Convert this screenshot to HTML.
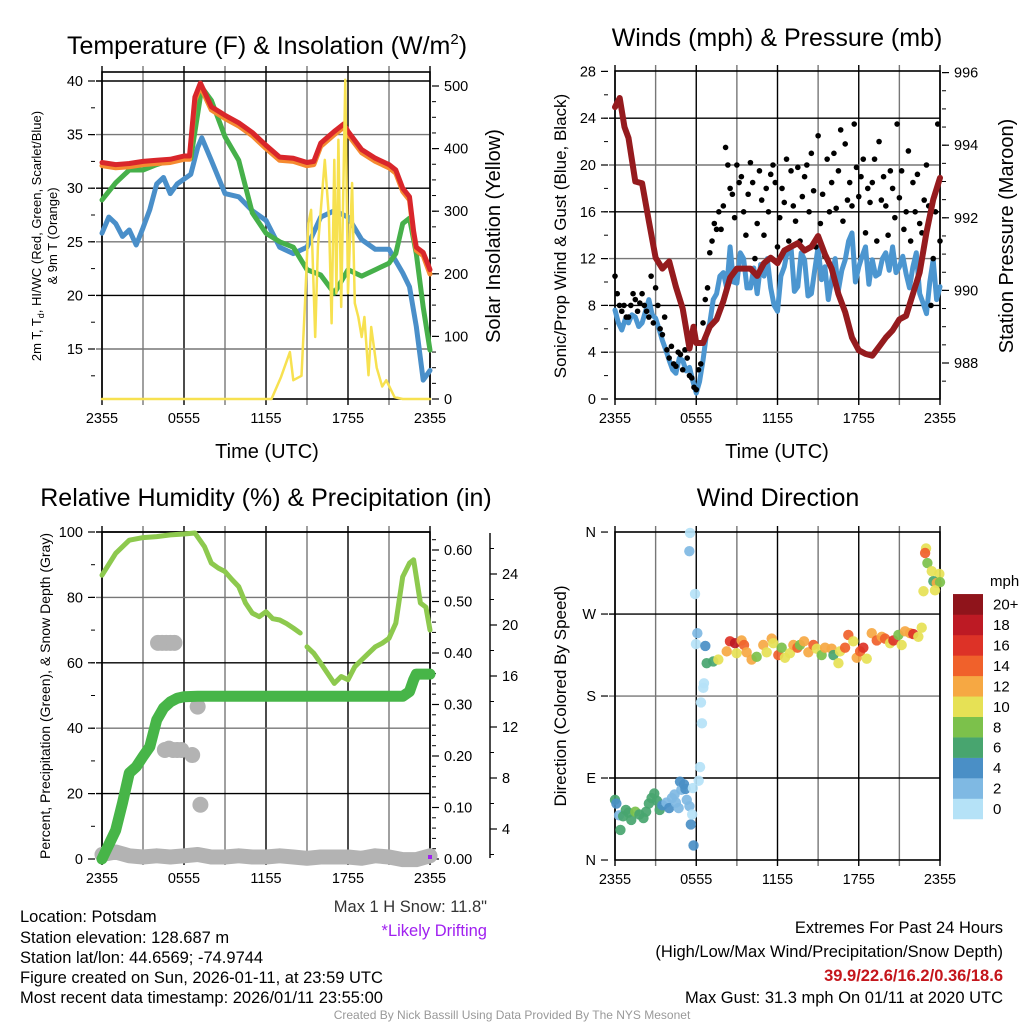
<!DOCTYPE html>
<html><head><meta charset="utf-8"><style>
html,body{margin:0;padding:0;background:#fff;}
svg{display:block;font-family:"Liberation Sans",Arial,sans-serif;}
</style></head><body>
<svg id="fig" width="1024" height="1024" viewBox="0 0 1024 1024" xmlns="http://www.w3.org/2000/svg">
<rect x="0" y="0" width="1024" height="1024" fill="#fff"/>
<g id="layer"></g>
<g font-size="25" text-anchor="middle" fill="#000">
<text x="267" y="54">Temperature (F) &amp; Insolation (W/m<tspan font-size="15" dy="-10">2</tspan><tspan dy="10">)</tspan></text>
<text x="777" y="46">Winds (mph) &amp; Pressure (mb)</text>
<text x="266" y="506">Relative Humidity (%) &amp; Precipitation (in)</text>
<text x="778" y="506">Wind Direction</text>
</g>
<g text-anchor="middle" fill="#000">
<text x="267" y="458" font-size="20">Time (UTC)</text>
<text x="777" y="458" font-size="20">Time (UTC)</text>
<text transform="translate(41,236) rotate(-90)" font-size="13">2m T, T<tspan font-size="9" dy="3">d</tspan><tspan dy="-3">, HI/WC (Red, Green, Scarlet/Blue)</tspan></text>
<text transform="translate(57,236) rotate(-90)" font-size="13">&amp; 9m T (Orange)</text>
<text transform="translate(500,236) rotate(-90)" font-size="20">Solar Insolation (Yellow)</text>
<text transform="translate(566,236) rotate(-90)" font-size="17">Sonic/Prop Wind &amp; Gust (Blue, Black)</text>
<text transform="translate(1013,236) rotate(-90)" font-size="20">Station Pressure (Maroon)</text>
<text transform="translate(50,696) rotate(-90)" font-size="14">Percent, Precipitation (Green), &amp; Snow Depth (Gray)</text>
<text transform="translate(566,696) rotate(-90)" font-size="17">Direction (Colored By Speed)</text>
</g>
<g font-size="16.5" fill="#000">
<text x="20" y="922">Location: Potsdam</text>
<text x="20" y="943">Station elevation: 128.687 m</text>
<text x="20" y="963">Station lat/lon: 44.6569; -74.9744</text>
<text x="20" y="983">Figure created on Sun, 2026-01-11, at 23:59 UTC</text>
<text x="20" y="1003">Most recent data timestamp: 2026/01/11 23:55:00</text>
<text x="487" y="912" text-anchor="end" fill="#333">Max 1 H Snow: 11.8"</text>
<text x="487" y="936" text-anchor="end" fill="#a020f0">*Likely Drifting</text>
<text x="1003" y="933" text-anchor="end">Extremes For Past 24 Hours</text>
<text x="1003" y="957" text-anchor="end">(High/Low/Max Wind/Precipitation/Snow Depth)</text>
<text x="1003" y="981" text-anchor="end" fill="#c4161c" font-weight="bold">39.9/22.6/16.2/0.36/18.6</text>
<text x="1003" y="1003" text-anchor="end">Max Gust: 31.3 mph On 01/11 at 2020 UTC</text>
<text x="512" y="1019" text-anchor="middle" font-size="12" fill="#999">Created By Nick Bassill Using Data Provided By The NYS Mesonet</text>
</g>
</svg>
<script>
// ---------- DATA ----------
const timeLabels = ["2355","0555","1155","1755","2355"];
// Temperature (F)
const tempTimes = [0,1,2,3,4,5,6,6.4,6.8,7.2,8,9,10,11,12,13,14,15,15.5,16,17,17.7,18,19,20,21,21.5,22,22.5,22.8,23,23.5,24];
const tempValues = [32.4,32.2,32.3,32.5,32.6,32.7,33.0,33.0,38.5,39.8,37.6,36.8,36.1,35.2,34.0,32.9,32.8,32.4,32.5,34.2,35.3,36.0,35.3,33.6,32.8,32.2,31.7,30.0,29.2,26.0,24.5,24.0,22.4];
const temp9mValues = [32.1,31.9,32.0,32.2,32.3,32.4,32.7,32.7,38.2,39.5,37.3,36.5,35.8,34.9,33.7,32.6,32.5,32.1,32.2,33.9,35.0,35.7,35.0,33.3,32.5,31.9,31.4,29.7,28.9,25.7,24.2,23.7,22.0];
const hiTimes = [0,1,2,3,4,5,6,6.5,7.3,8,9,10,11,12,13,14,15,16,17,18,19,20,21,21.5,22,22.5,23,23.5,24];
const hiValues = [28.9,30.5,31.7,31.7,32.2,32.6,32.8,32.8,39.4,38.2,34.8,32.6,27.7,25.8,25.0,24.5,22.4,21.9,20.2,22.4,21.8,22.4,23.0,23.9,26.7,27.2,23.9,18.9,14.9];
const tdTimes = [0,0.5,1,1.5,2,2.5,3,3.5,4,4.5,5,5.5,6.5,7,7.3,8,9,10,11,12,13,14,15,16,17,18,19,20,21,22,22.5,23,23.5,24];
const tdValues = [25.8,27.3,26.7,25.5,26.1,24.7,26.3,28.0,30.4,31.0,29.5,30.4,31.3,33.8,34.7,32.6,29.5,29.2,27.9,27.0,24.5,23.9,24.5,27.3,27.9,27.3,25.2,24.3,24.3,22.1,20.8,17.1,12.1,13.0];
const solarTimes = [0,12.4,13.1,13.75,14,14.6,14.85,15.1,15.3,15.6,15.8,16.3,16.6,16.8,17,17.15,17.3,17.5,17.8,18,18.3,18.5,18.75,19,19.2,19.5,19.7,20.1,20.5,20.8,21.4,22,24];
const solarValues = [0,0,35,75,30,37,153,281,302,99,243,382,291,121,382,169,414,147,510,169,345,153,131,99,131,38,115,50,20,30,3,0,0];
// Winds (mph) & pressure (mb)
const pressTimes = [0,0.35,0.7,1,1.5,2,2.5,3,3.5,4,4.5,5,5.5,5.8,6,6.5,7,7.5,8,8.5,9,10,10.5,11,11.5,12,12.5,13,13.5,14,14.5,15,15.5,16,16.5,17,17.5,18,18.5,19,19.5,20,20.5,21,21.5,22,22.5,23,23.5,24];
const pressValues = [995.05,995.3,994.5,994.2,993.0,992.95,991.9,990.9,990.6,990.8,990.1,989.5,988.4,989.0,988.55,988.55,989.0,989.2,989.7,990.35,990.6,990.6,990.4,990.75,990.9,990.75,991.1,991.2,991.3,991.1,991.2,991.5,991.0,990.6,989.9,989.4,988.7,988.35,988.25,988.2,988.45,988.7,988.9,989.2,989.3,989.9,990.5,991.6,992.5,993.1];
const windValues = [7.6,6.5,5.9,6.8, 6.5,7.2,7,6.2, 6.5,7.5,8.5,7.2, 6.9,6,5,4.2, 3.3,2.5,2.2,3.5, 3.3,2.4,2.7,1.5, 0.5,1.5,3.3,5.5, 6.5,8.5,9,10.5, 10.8,9.5,13,10, 9.9,12.5,12,9.5, 9.5,11.2,9,11.5, 10.5,12,9.5,8, 7.5,10.5,11.3,12.8, 13,9.2,9.6,12.5, 11.9,8.8,9,11, 13,10.2,11.3,8.5, 10.2,12,9.3,11, 11.9,13.5,14.2,10, 11.3,12.2,13,9.8, 11.9,10.5,10.7,12, 12.5,11,13,10.8, 11.3,12.2,10.7,9.5, 11.3,12.5,9,8.2, 7.3,10,11.9,8.5,9.6];
const gustValues = [10.5,9,8,7.5,8,7, 7,8,9,8.5,7.5,8.2, 9,8,7.5,7,10.5,6.5, 9.5,8,6,5.5,7,4.2, 3.5,4.5,3,2.8,4,3.8, 2.5,4.2,3.5,2,1.8,1, 0.8,2.5,3,6.5,8.5,9.5, 12.5,13.5,15,14.5,16,14.5, 16.5,21.5,20,18,17.5,15.5, 20,18.5,19,16,14,17.5, 20.2,18.5,12,15,19.5,17, 14,18,16,19.2,20,18.5, 13,15.5,18,16.8,20.5,13.5, 19.5,16.5,15.2,19.8,13.5,17.3, 19,20,16,21,17.8,13, 22.5,15,17.5,12.2,20.5,16, 18.5,21,16.3,19.5,23,15.2, 21.8,17,18.5,16.5,23.5,19.8, 17.3,19,20.5,14.2,18,16.8, 18.5,20.5,13.5,22,17,19, 16.5,14,19.5,18,15.5,23.5, 17.2,19.5,14.5,16,21.2,13.5, 18.5,16,19.2,15,14.2,17, 20,16.5,8,12,16,23.5,13.5];
// Relative humidity, precipitation, snow
const rhTimes = [0,1,2,3,4,5,6,6.8,7.5,8,8.5,9,9.5,10,10.5,11,11.5,12,12.5,13,13.5,14,14.5];
const rhValues = [86.8,93.5,97.5,98.3,98.6,99.1,99.4,99.7,95.5,90.5,89,87.9,85.5,83.3,78.3,75.2,74.1,75.6,73.5,73.1,72,70.6,69.1];
const rh2Times = [15,15.5,16,16.5,17,17.5,18,18.5,19,19.5,20,20.5,21,21.5,22,22.5,22.8,23,23.3,23.7,24];
const rh2Values = [64.9,62.9,59.9,56.8,53.7,55.8,54.8,58.8,60.9,62.9,64.9,66,67.5,72.1,86.3,90.5,91.5,86.3,78.3,77,70];
const precipTimes = [0,1,1.5,2,2.5,3,3.5,4,4.5,5,5.5,6,7,22,22.5,22.8,23,24];
const precipValues = [0,0.056,0.109,0.167,0.179,0.199,0.218,0.27,0.293,0.305,0.312,0.315,0.316,0.316,0.325,0.348,0.359,0.359];
const snowTimes = [0,1,2,3,4,5,6,7,8,9,10,11,12,13,14,15,16,17,18,19,20,21,22,23,24];
const snowValues = [2.0,2.2,1.9,1.8,1.9,1.8,1.9,2.0,1.8,1.8,1.9,1.8,1.8,1.9,1.8,1.7,1.8,1.8,1.8,1.7,1.9,1.8,1.6,1.6,1.9];
const snowBlobTimes = [4.1,4.4,4.7,5.0,5.3,4.6,4.9,5.2,5.5,5.8,6.6,7.0,7.2];
const snowBlobValues = [18.6,18.6,18.6,18.6,18.6,10.2,10.3,10.2,10.2,10.2,9.8,13.6,5.9];
// Wind direction
const dirTimes = [0,0.1,0.3,0.4,0.6,0.8,1.0,1.2,1.5,1.8,2.1,2.3,2.5,2.7,2.9,3.1,3.3,3.5,3.8,4.0,4.2,4.4,4.5,4.7,4.8,4.9,5.1,5.2,5.3,5.5,5.6,5.7,5.75,5.8,5.54,5.49,5.91,6.08,5.98,6.67,6.57,6.52,6.35,6.42,6.28,6.18,6.77,7.26,7.63,8.25,8.49,8.86,8.98,9.35,9.53,9.72,10.09,10.46,10.95,11.2,11.57,11.69,12.06,12.31,12.55,12.92,13.17,13.47,13.66,13.96,14.28,14.65,14.9,15.26,15.51,16.0,16.13,16.5,16.62,16.99,17.23,17.6,17.85,18.1,18.34,18.59,18.96,19.33,19.7,19.94,20.31,20.56,20.93,21.17,21.42,21.79,22.03,22.4,22.65,22.97,22.9,23.07,23.39,23.95,23.51,23.76,24.0,22.78,23.63];
const dirValues = [66,62,49,33,48,55,52,44,53,50,46,53,62,68,73,65,55,60,63,57,68,72,63,57,86,77,83,78,66,59,39,50,79,16,359,339,292,249,237,235,194,189,173,150,102,87,216,218,220,229,240,238,227,241,236,228,220,223,236,228,243,238,225,233,222,227,236,233,236,240,228,236,232,225,233,232,225,216,229,233,247,240,222,229,233,221,249,241,245,243,238,241,247,236,251,249,248,245,255,342,337,326,317,314,306,304,305,295,296];
const dirSpeeds = [7,4,3,6,6,7,6,6,8,6,6,6,6,7,6,6,6,4,3,4,2,2,2,2,4,2,4,4,2,2,4,1,1,4,1,3,1,2,1,4,1,1,1,1,1,1,6,6,10,12,16,18,10,12,14,12,12,8,12,10,12,10,14,8,10,10,12,14,8,12,12,14,10,8,12,12,6,10,10,14,14,10,12,14,16,10,12,14,12,14,10,16,8,10,12,12,16,10,10,10,14,8,10,10,6,12,8,10,10];
const speedColors = ["#b5e2f7","#7fb9e3","#4a8fc6","#48a56f","#7cc14b","#e6e155","#f6a843","#f0612b","#dd3227","#bd1a24","#8f141b"];
const speedLabels = ["0","2","4","6","8","10","12","14","16","18","20+"];

// ---------- HELPERS ----------
const NS = "http://www.w3.org/2000/svg";
const layer = document.getElementById("layer");
function mk(tag, attrs, parent) {
  const el = document.createElementNS(NS, tag);
  for (const k in attrs) el.setAttribute(k, attrs[k]);
  (parent || layer).appendChild(el);
  return el;
}
function ptsStr(times, vals, fx, fy) {
  return times.map((t, i) => fx(t).toFixed(1) + "," + fy(vals[i]).toFixed(1)).join(" ");
}
const X1 = h => 102 + h * 328 / 24;
const X2 = h => 615 + h * 325 / 24;
const YT = t => 81 + (40 - t) * 10.72;
const YS = s => 399 - s * 0.626;
const YW = w => 399 - w * 11.7;
const YP = p => 363 - (p - 988) * 36.3;
const YR = r => 859 - r * 3.27;
const YPr = p => 859 - p * 515;
const YSn = s => 880 - s * 12.75;
const YD = d => 860 - d * 0.911;

function panelFrame(x0, x1, y0, y1, fx, hGrid, fy, name) {
  const g = mk("g", {});
  
  
  for (let h = 0; h <= 24; h += 3) {
    const x = fx(h);
    const major = (h % 6 === 0);
    const l = mk("line", {x1: x, x2: x, y1: y0 - 6, y2: y1 + 6, stroke: major ? "#000" : "#777", "stroke-width": 1.4}, g);
    
    
  }
  hGrid.forEach((v, i) => {
    const y = fy(v);
    const l = mk("line", {x1: x0 - 6, x2: x1, y1: y, y2: y, stroke: i % 2 ? "#777" : "#000", "stroke-width": 1.4}, g);
    
    
  });
  const f = mk("rect", {x: x0, y: y0, width: x1 - x0, height: y1 - y0, fill: "none", stroke: "#000", "stroke-width": 1.6}, g);
  
  
  timeLabels.forEach((lab, i) => {
    const t = mk("text", {x: fx(i * 6), y: y1 + 24, "font-size": 14.5, "text-anchor": "middle"}, g);
    t.textContent = lab;
    
    
  });
}
function yAxis(x, vals, fy, labels, side, name, minors, fs) {
  const g = mk("g", {});
  
  
  const dir = side === "left" ? -1 : 1;
  minors.forEach(v => {
    const l = mk("line", {x1: x, x2: x + dir * 4, y1: fy(v), y2: fy(v), stroke: "#000", "stroke-width": 1}, g);
    
    
  });
  vals.forEach((v, i) => {
    const y = fy(v);
    const l = mk("line", {x1: x, x2: x + dir * 7, y1: y, y2: y, stroke: "#000", "stroke-width": 1.2}, g);
    
    
    const t = mk("text", {x: x + dir * 12, y: y + 5, "font-size": fs || 14.5, "text-anchor": side === "left" ? "end" : "start"}, g);
    t.textContent = labels[i];
    
    
  });
}
function range(a, b, s) { const r = []; for (let v = a; v <= b + 1e-9; v += s) r.push(+v.toFixed(4)); return r; }
function line(times, vals, fx, fy, color, w, name) {
  const p = mk("polyline", {points: ptsStr(times, vals, fx, fy), fill: "none", stroke: color, "stroke-width": w, "stroke-linejoin": "round", "stroke-linecap": "round"});
  
  
  return p;
}

// ---------- PANEL 1 ----------
panelFrame(102, 430, 72, 399, X1, [40,35,30,25,20,15], YT, "temperature");
const t1 = [15,20,25,30,35,40];
yAxis(95, t1, YT, t1.map(String), "left", "temperature-left-axis", range(12.5, 40, 2.5), 14.5);
const s1 = [0,100,200,300,400,500];
yAxis(432, s1, YS, s1.map(String), "right", "insolation-right-axis", range(0, 500, 25), 14.5);
line(tdTimes, tdValues, X1, YT, "#4a8fc9", 5, "dewpoint-line");
line(hiTimes, hiValues, X1, YT, "#46b04a", 5, "heat-index-wind-chill-line");
line(tempTimes, temp9mValues, X1, YT, "#f58a30", 5, "temperature-9m-line");
line(tempTimes, tempValues, X1, YT, "#d9262b", 5, "temperature-2m-line");
line(solarTimes, solarValues, X1, YS, "#f7e150", 2.5, "solar-insolation-line");

// ---------- PANEL 2 ----------
panelFrame(615, 940, 71, 399, X2, [24,20,16,12,8,4], YW, "winds");
const w1 = [0,4,8,12,16,20,24,28];
yAxis(608, w1, YW, w1.map(String), "left", "wind-left-axis", range(0, 28, 2), 14.5);
const p1 = [988,990,992,994,996];
yAxis(942, p1, YP, p1.map(String), "right", "pressure-right-axis", range(987.5, 996, 0.5), 14.5);
const windTimes = windValues.map((v, i) => i * 0.25);
line(windTimes, windValues, X2, YW, "#4c96d0", 5, "sustained-wind-line");
const gustG = mk("g", {fill: "#000"});


gustValues.forEach((v, i) => {
  const c = mk("circle", {cx: X2(i / 6), cy: YW(v), r: 2.8}, gustG);
  
  
});
line(pressTimes, pressValues, X2, YP, "#951b1e", 6, "pressure-line");

// ---------- PANEL 3 ----------
panelFrame(102, 430, 532, 859, X1, [100,80,60,40,20], YR, "humidity");
const r1 = [0,20,40,60,80,100];
yAxis(95, r1, YR, r1.map(String), "left", "humidity-left-axis", range(0, 100, 10), 14.5);
const pr1 = [0,0.1,0.2,0.3,0.4,0.5,0.6];
yAxis(432, pr1, YPr, pr1.map(v => v.toFixed(2)), "right", "precip-right-axis", range(0, 0.62, 0.02), 14.5);
const sax = mk("line", {x1: 490, x2: 490, y1: 533, y2: 858, stroke: "#000", "stroke-width": 1.4});


const sn1 = [4,8,12,16,20,24];
yAxis(490, sn1, YSn, sn1.map(String), "right", "snow-right-axis", range(2, 26, 2), 14.5);
line(snowTimes, snowValues, X1, YSn, "#b3b3b3", 15, "snow-depth-line");
const blobG = mk("g", {fill: "#b3b3b3"});


snowBlobTimes.forEach((t, i) => {
  const c = mk("circle", {cx: X1(t), cy: YSn(snowBlobValues[i]), r: 8}, blobG);
  
  
});
line(precipTimes, precipValues, X1, YPr, "#47b548", 11, "precipitation-line");
line(rhTimes, rhValues, X1, YR, "#8dc94e", 5, "relative-humidity-line");
line(rh2Times, rh2Values, X1, YR, "#8dc94e", 5, "relative-humidity-line-2");
const pm = mk("rect", {x: X1(24) - 2, y: 855, width: 4, height: 4, fill: "#a020f0"});



// ---------- PANEL 4 ----------
panelFrame(615, 940, 532, 860, X2, [270,180,90], YD, "direction");
const dTicks = [0,90,180,270,360];
yAxis(608, dTicks, YD, ["N","E","S","W","N"], "left", "direction-left-axis", [], 14.5);
const dirG = mk("g", {});


dirTimes.forEach((t, i) => {
  const bin = Math.max(0, Math.min(10, Math.floor(dirSpeeds[i] / 2)));
  const c = mk("circle", {cx: X2(t), cy: YD(dirValues[i]), r: 5.2, fill: speedColors[bin], "fill-opacity": 0.92}, dirG);
  
  
});
const cb = mk("g", {});


const cbt = mk("text", {x: 990, y: 586, "font-size": 15}, cb);
cbt.textContent = "mph";


speedColors.forEach((col, i) => {
  const y = 819 - (i + 1) * 20.45;
  const r = mk("rect", {x: 953, y: y, width: 30, height: 20.7, fill: col}, cb);
  
  
  const t = mk("text", {x: 993, y: y + 15.5, "font-size": 15}, cb);
  t.textContent = speedLabels[i];
  
  
});
</script>
</body></html>
